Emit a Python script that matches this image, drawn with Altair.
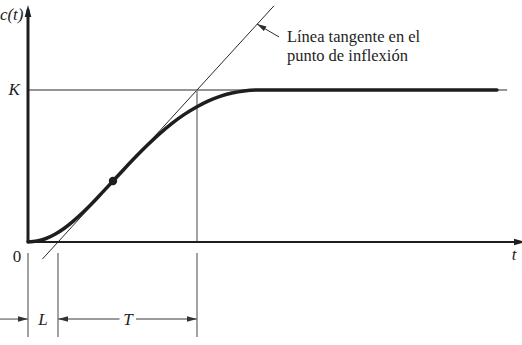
import altair as alt
import pandas as pd

# ---- values (data units: t horizontal, c vertical, K = 1) ----
t_curve = [0.0, 0.3, 0.6, 0.9, 1.2, 1.5, 1.8, 2.1, 2.4, 2.833, 3.2, 3.6, 4.0, 4.4, 4.8, 5.2,
           5.633, 6.0, 6.4, 6.8, 7.2, 7.7, 15.63]
c_curve = [0.0, 0.006, 0.023, 0.051, 0.089, 0.136, 0.189, 0.247, 0.309, 0.401, 0.479, 0.562,
           0.641, 0.715, 0.781, 0.838, 0.89, 0.927, 0.958, 0.98, 0.994, 1.0, 1.0]

K = 1.0
L = 1.0
T = 4.633
infl_t = [2.833]
infl_c = [0.401]

tangent_t = [0.48, 8.2]
x_axis_end = 16.3
y_axis_end = 1.53
K_line_end = 15.97

dim_y = -0.507          # level of the L / T dimension arrows
tick_top = -0.072
tick_bottom = -0.625

anno_lines = ["Línea tangente en el", "punto de inflexión"]
anno_t = 8.63
anno_c = [1.316, 1.191]
anno_arrow_from = (8.367, 1.349)
anno_arrow_to = (7.633, 1.434)

FONT = "Liberation Serif"
xs = alt.Scale(domain=[-28 / 30, 494 / 30], nice=False, zero=False)
ys = alt.Scale(domain=[-103 / 152, 242 / 152], nice=False, zero=False)

slope = K / T


def seg_layer(rows, color, width):
    df = pd.DataFrame(rows, columns=["x1", "y1", "x2", "y2"])
    return alt.Chart(df).mark_rule(color=color, strokeWidth=width, strokeCap="butt").encode(
        x=alt.X("x1:Q", scale=xs, axis=None),
        y=alt.Y("y1:Q", scale=ys, axis=None),
        x2="x2:Q",
        y2="y2:Q",
    )


# thick axes
y_axis = seg_layer([(0, 0, 0, y_axis_end)], "#1e1e1e", 3)
x_axis = seg_layer([(0, 0, x_axis_end, 0)], "#1e1e1e", 2)

# thin black lines: K level, tangent, annotation pointer
thin = seg_layer(
    [
        (0, K, K_line_end, K),
        (tangent_t[0], slope * (tangent_t[0] - L), tangent_t[1], slope * (tangent_t[1] - L)),
        (anno_arrow_from[0], anno_arrow_from[1], anno_arrow_to[0], anno_arrow_to[1]),
    ],
    "#2a2a2a",
    1,
)

# grey construction / dimension lines
grey = seg_layer(
    [
        (L + T, 0, L + T, K),
        (0, tick_top, 0, tick_bottom),
        (L, tick_top, L, tick_bottom),
        (L + T, tick_top, L + T, tick_bottom),
        (-0.95, dim_y, 0, dim_y),
        (L, dim_y, 3.05, dim_y),
        (3.6, dim_y, L + T, dim_y),
    ],
    "#7a7a7a",
    1.4,
)

curve = alt.Chart(pd.DataFrame({"t": t_curve, "c": c_curve})).mark_line(
    color="#1e1e1e", strokeWidth=3.5, interpolate="monotone", strokeCap="round"
).encode(x=alt.X("t:Q", scale=xs, axis=None), y=alt.Y("c:Q", scale=ys, axis=None))

dot = alt.Chart(pd.DataFrame({"t": infl_t, "c": infl_c})).mark_point(
    filled=True, color="#1e1e1e", size=70, opacity=1
).encode(x=alt.X("t:Q", scale=xs, axis=None), y=alt.Y("c:Q", scale=ys, axis=None))

ARROW = "M 0 0 L -2 -0.55 L -2 0.55 Z"
heads = pd.DataFrame(
    [
        (0, y_axis_end + 0.03, 270, 144, "#1e1e1e"),
        (x_axis_end + 0.3, 0, 0, 144, "#1e1e1e"),
        (0, dim_y, 0, 100, "#333333"),
        (L, dim_y, 180, 100, "#333333"),
        (L + T, dim_y, 0, 100, "#333333"),
        (anno_arrow_to[0], anno_arrow_to[1], 210.6, 90, "#2a2a2a"),
    ],
    columns=["x", "y", "ang", "sz", "col"],
)
arrowheads = alt.Chart(heads).mark_point(shape=ARROW, filled=True, opacity=1, strokeWidth=0).encode(
    x=alt.X("x:Q", scale=xs, axis=None),
    y=alt.Y("y:Q", scale=ys, axis=None),
    angle=alt.Angle("ang:Q", scale=None),
    size=alt.Size("sz:Q", scale=None),
    color=alt.Color("col:N", scale=None),
)

# italic symbol labels
sym = pd.DataFrame(
    [
        ("c(t)", -0.15, 1.46, "right", 17),
        ("K", -0.27, -0.03 + K, "right", 17),
        ("t", 16.2, -0.12, "center", 17),
        ("L", 0.5, dim_y - 0.04, "center", 17),
        ("T", 3.33, dim_y - 0.04, "center", 17),
    ],
    columns=["txt", "x", "y", "al", "fs"],
)
sym_layers = []
for _, r in sym.iterrows():
    sym_layers.append(
        alt.Chart(pd.DataFrame([r])).mark_text(
            font=FONT, fontStyle="italic", fontSize=int(r["fs"]), align=r["al"], baseline="alphabetic",
            color="#1e1e1e",
        ).encode(x=alt.X("x:Q", scale=xs, axis=None), y=alt.Y("y:Q", scale=ys, axis=None), text="txt:N")
    )

zero_lbl = alt.Chart(pd.DataFrame({"txt": ["0"], "x": [-0.37], "y": [-0.13]})).mark_text(
    font=FONT, fontSize=17, align="center", baseline="alphabetic", color="#1e1e1e"
).encode(x=alt.X("x:Q", scale=xs, axis=None), y=alt.Y("y:Q", scale=ys, axis=None), text="txt:N")

anno = alt.Chart(pd.DataFrame({"txt": anno_lines, "x": [anno_t] * 2, "y": anno_c})).mark_text(
    font=FONT, fontSize=16.5, align="left", baseline="alphabetic", color="#1e1e1e"
).encode(x=alt.X("x:Q", scale=xs, axis=None), y=alt.Y("y:Q", scale=ys, axis=None), text="txt:N")

chart = alt.layer(
    thin, grey, y_axis, x_axis, curve, dot, arrowheads, zero_lbl, anno, *sym_layers
).properties(
    width=522, height=345, autosize=alt.AutoSizeParams(type="none"), padding=0, background="white"
).configure_view(stroke=None)

chart.save("out.html", embed_options={"renderer": "svg", "actions": False})
